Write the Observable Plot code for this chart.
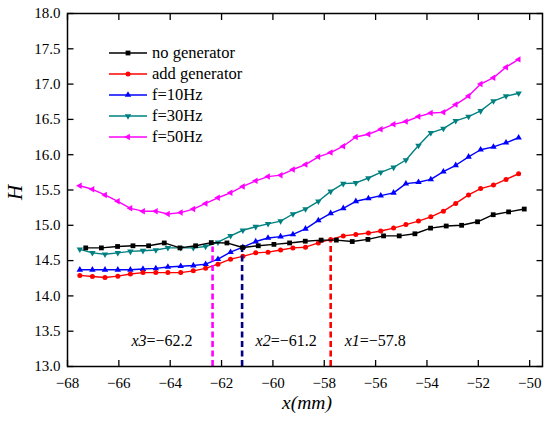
<!DOCTYPE html>
<html><head><meta charset="utf-8">
<script src="https://cdn.jsdelivr.net/npm/d3@7"></script>
<script src="https://cdn.jsdelivr.net/npm/@observablehq/plot@0.6"></script>
<style>
body{margin:0;background:#fff;}
#wrap{position:relative;width:550px;height:422px;font-family:"Liberation Serif","Times New Roman",serif;}
#legend{position:absolute;left:109px;top:43px;font-size:16.5px;color:#000;}
.row{display:flex;align-items:center;height:20.8px;white-space:nowrap;}
.row svg{margin-right:4px;}
</style></head><body><div id="wrap"><div id="legend"></div></div>
<script>
// ---- data ----
const xNoGen = [-67.29,-66.68,-66.05,-65.45,-64.84,-64.23,-63.62,-63.01,-62.40,-61.79,-61.18,-60.57,-59.96,-59.35,-58.74,-58.12,-57.53,-56.91,-56.30,-55.69,-55.08,-54.47,-53.86,-53.25,-52.65,-52.03,-51.42,-50.82,-50.21];
const hNoGen = [14.68,14.68,14.70,14.71,14.71,14.75,14.68,14.71,14.755,14.75,14.685,14.71,14.73,14.75,14.775,14.79,14.79,14.77,14.80,14.85,14.85,14.88,14.96,14.99,15.00,15.05,15.15,15.19,15.23];
const xGrid = [-67.52,-67.03,-66.54,-66.04,-65.55,-65.06,-64.56,-64.09,-63.59,-63.10,-62.62,-62.14,-61.65,-61.17,-60.67,-60.19,-59.70,-59.22,-58.73,-58.23,-57.75,-57.26,-56.77,-56.28,-55.80,-55.30,-54.82,-54.33,-53.85,-53.36,-52.88,-52.38,-51.91,-51.41,-50.92,-50.43];
const hAddGen = [14.29,14.275,14.26,14.28,14.31,14.33,14.33,14.33,14.33,14.355,14.39,14.45,14.52,14.56,14.61,14.62,14.65,14.68,14.69,14.75,14.80,14.85,14.87,14.89,14.92,14.96,15.01,15.06,15.12,15.20,15.31,15.43,15.52,15.57,15.65,15.73];
const hF10 = [14.37,14.37,14.37,14.37,14.37,14.38,14.39,14.41,14.42,14.43,14.45,14.52,14.62,14.69,14.77,14.82,14.84,14.87,14.95,15.07,15.17,15.24,15.34,15.38,15.42,15.46,15.59,15.61,15.65,15.76,15.85,15.97,16.07,16.11,16.17,16.24];
const hF30 = [14.66,14.61,14.59,14.61,14.63,14.64,14.65,14.68,14.68,14.68,14.70,14.76,14.85,14.93,14.98,15.02,15.06,15.16,15.23,15.34,15.48,15.59,15.60,15.67,15.75,15.82,15.925,16.13,16.31,16.37,16.48,16.54,16.62,16.76,16.83,16.87];
const hF50 = [15.56,15.51,15.43,15.34,15.24,15.20,15.20,15.16,15.18,15.23,15.31,15.39,15.46,15.55,15.63,15.69,15.71,15.79,15.86,15.97,16.03,16.12,16.25,16.29,16.36,16.43,16.47,16.54,16.59,16.60,16.71,16.83,17.00,17.09,17.24,17.35];

const seriesNames = ["no generator","add generator","f=10Hz","f=30Hz","f=50Hz"];
const seriesColors = ["#000000","#ff0000","#0000ff","#008080","#ff00ff"];

const cutX = [-62.35, -61.2, -57.75];
const cutTop = [14.75, 14.70, 14.82];
const cutNames = ["x3","x2","x1"];
const cutVals = [-62.2, -61.2, -57.8];
const cutColors = ["#ff00ff","#000080","#ff0000"];

const xTicks = [-68,-66,-64,-62,-60,-58,-56,-54,-52,-50];
const yTicks = [13.0,13.5,14.0,14.5,15.0,15.5,16.0,16.5,17.0,17.5,18.0];
const xDomain = [-68, -49.5];
const yDomain = [13, 18];

// ---- symbols ----
const s3 = Math.sqrt(3);
const triDown = {draw(c, size){const y=-Math.sqrt(size/(s3*3)); c.moveTo(0,-2*y); c.lineTo(-s3*y,y); c.lineTo(s3*y,y); c.closePath();}};
const triLeft = {draw(c, size){const y=-Math.sqrt(size/(s3*3)); c.moveTo(2*y,0); c.lineTo(-y,-s3*y); c.lineTo(-y,s3*y); c.closePath();}};
const seriesSymbols = ["square","circle","triangle",triDown,triLeft];
const seriesR = [2.7,2.5,2.4,2.4,2.4];
const d3Sym = [d3.symbolSquare, d3.symbolCircle, d3.symbolTriangle, triDown, triLeft];

const seriesX = [xNoGen, xGrid, xGrid, xGrid, xGrid];
const seriesH = [hNoGen, hAddGen, hF10, hF30, hF50];
const tables = seriesH.map((hs,i)=>hs.map((h,j)=>({x: seriesX[i][j], h, series: seriesNames[i]})));
const cuts = cutX.map((x,i)=>({x, top: cutTop[i], label: `${cutNames[i]}=${d3.format(".1f")(cutVals[i])}`, color: cutColors[i]}));

const drawOrder = [3,4,2,1,0];
const marks = [];
for (const i of drawOrder) {
  marks.push(Plot.line(tables[i], {x:"x", y:"h", stroke: seriesColors[i], strokeWidth: 1.4}));
  marks.push(Plot.dot(tables[i], {x:"x", y:"h", fill: seriesColors[i], stroke: "none", symbol: seriesSymbols[i], r: seriesR[i]}));
}
cuts.forEach((c)=>{
  marks.push(Plot.ruleX([c], {x:"x", y1: yDomain[0], y2:"top", stroke: c.color, strokeWidth: 2.6, strokeDasharray: "6,3.5", insetBottom: -4}));
});
marks.push(Plot.text([cuts[0]], {x:"x", text:"label", frameAnchor:"bottom", dy:-21, dx:-20, textAnchor:"end", fontSize:16}));
marks.push(Plot.text([cuts[1]], {x:"x", text:"label", frameAnchor:"bottom", dy:-21, dx:13.5, textAnchor:"start", fontSize:16}));
marks.push(Plot.text([cuts[2]], {x:"x", text:"label", frameAnchor:"bottom", dy:-21, dx:14, textAnchor:"start", fontSize:16}));

const fmtX = d3.format("d"), fmtY = d3.format(".1f");
marks.push(
  Plot.axisX({ticks:xTicks, anchor:"bottom", tickSize:0, tickPadding:11, tickFormat: fmtX, label:null}),
  Plot.axisX({ticks:xTicks, anchor:"bottom", tickSize:6, dy:-6, tickFormat: ()=>"", label:null, strokeWidth:1.3}),
  Plot.axisX({ticks:xTicks, anchor:"top", tickSize:6, dy:6, tickFormat: ()=>"", label:null, strokeWidth:1.3}),
  Plot.axisY({ticks:yTicks, anchor:"left", tickSize:0, tickPadding:7, tickFormat: fmtY, label:null}),
  Plot.axisY({ticks:yTicks, anchor:"left", tickSize:6.5, dx:6.5, tickFormat: ()=>"", label:null, strokeWidth:1.3}),
  Plot.axisY({ticks:yTicks, anchor:"right", tickSize:6.5, dx:-6.5, tickFormat: ()=>"", label:null, strokeWidth:1.3}),
  Plot.frame({stroke:"#000", strokeWidth:1.5}),
  Plot.text(["x(mm)"], {frameAnchor:"bottom", dy:42, dx:2, fontStyle:"italic", fontSize:19.5}),
  Plot.text(["H"], {frameAnchor:"left", dx:-52, dy:10, rotate:-90, fontStyle:"italic", fontSize:21})
);

const chart = Plot.plot({
  width: 550, height: 422,
  marginLeft: 67, marginRight: 8, marginTop: 13, marginBottom: 56,
  x: {domain: xDomain, axis: null},
  y: {domain: yDomain, axis: null},
  style: {fontFamily: '"Liberation Serif","Times New Roman",serif', fontSize: "15px", color:"#000", background:"#fff"},
  marks
});
document.getElementById("wrap").prepend(chart);

// italic variable names in annotations
d3.select(chart).selectAll("text").each(function(){
  const t = this.textContent;
  const m = /^(x\d)(=.*)$/.exec(t);
  if (m) {
    const sel = d3.select(this);
    sel.text(null);
    sel.append("tspan").attr("font-style","italic").text(m[1]);
    sel.append("tspan").text(m[2]);
  }
});

// legend
const leg = d3.select("#legend");
seriesNames.forEach((name,i)=>{
  const row = leg.append("div").attr("class","row");
  const svg = row.append("svg").attr("width",39).attr("height",14);
  svg.append("line").attr("x1",0).attr("x2",38).attr("y1",7).attr("y2",7).attr("stroke",seriesColors[i]).attr("stroke-width",1.6);
  svg.append("path").attr("transform","translate(19,7)").attr("d", d3.symbol().type(d3Sym[i]).size(seriesR[i]*seriesR[i]*Math.PI)()).attr("fill",seriesColors[i]);
  row.append("span").text(name);
});
</script>
</body></html>
